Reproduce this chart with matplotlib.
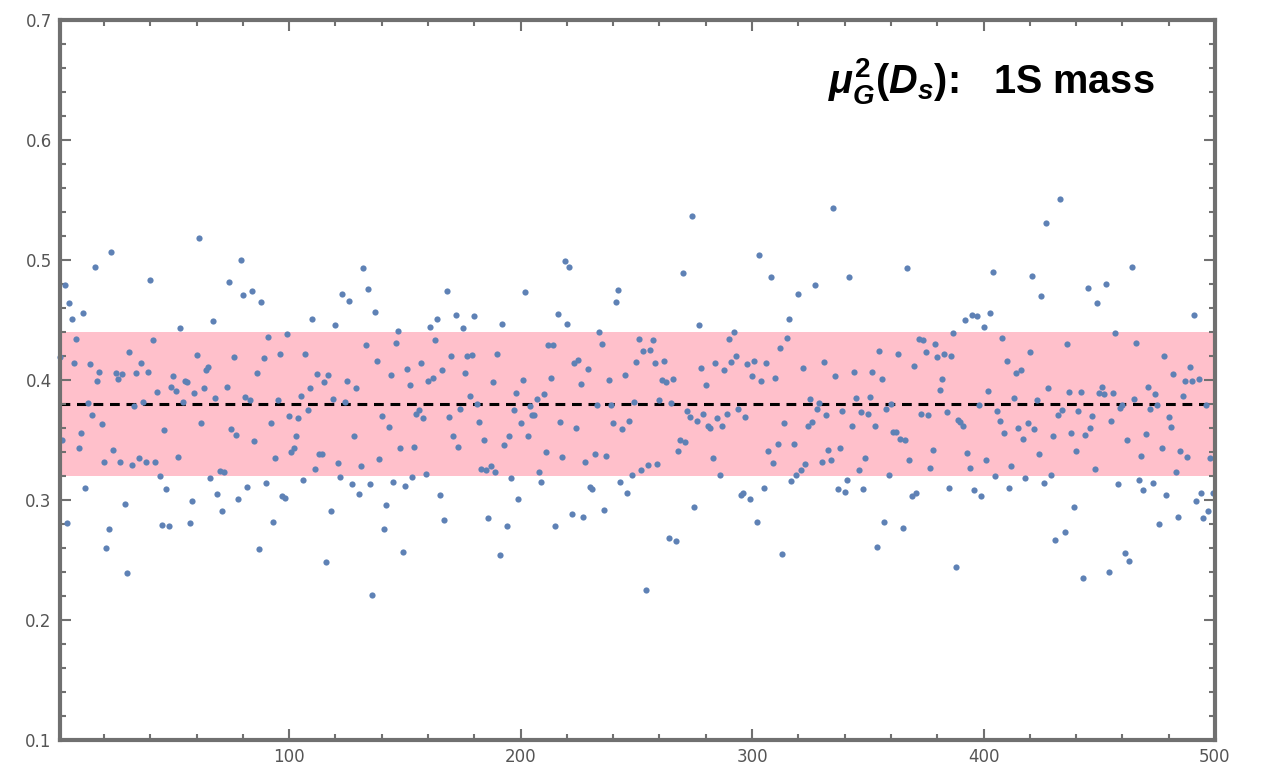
import numpy as np
import matplotlib
matplotlib.use("Agg")
import matplotlib.pyplot as plt
from matplotlib.ticker import MultipleLocator, FormatStrFormatter

# mu_G^2(D_s) values, one per sample (in order)
mu2 = [
    .419, .350, .479, .281, .464, .451, .414, .434, .343, .356, .456, .310, .381, .413, .371, .494,
    .399, .407, .363, .332, .260, .276, .507, .342, .406, .401, .332, .405, .297, .239, .423, .329,
    .378, .406, .335, .414, .382, .332, .407, .483, .433, .332, .390,
    .320, .279, .358, .309, .278, .394, .403, .391, .336, .443, .382, .399, .398, .281, .299, .389,
    .421, .518, .364, .393, .408, .411, .318, .449, .385, .305, .324, .291, .323, .394, .482, .359,
    .419, .354, .301, .500, .471, .386, .311, .383, .474,
    .349, .406, .259, .465, .418, .314, .436, .364, .282, .335, .383, .422, .303, .302, .438, .370,
    .340, .343, .353, .368, .387, .317, .422, .375, .393, .451, .326, .405, .338, .338, .398, .248,
    .404, .291, .384, .446, .331, .319, .472, .382, .399,
    .466, .313, .353, .393, .305, .328, .493, .429, .476, .313, .221, .457, .416, .334, .370, .276,
    .296, .361, .404, .315, .431, .441, .343, .257, .312, .409, .396, .319, .344, .372, .375, .414,
    .368, .322, .399, .444, .402, .433, .451, .304, .408, .283,
    .474, .369, .420, .353, .454, .344, .376, .443, .406, .420, .387, .421, .453, .380, .365, .326,
    .350, .325, .285, .328, .398, .323, .422, .254, .447, .346, .278, .353, .318, .375, .389, .301,
    .364, .400, .473, .353, .378, .371, .371, .384, .323,
    .315, .388, .340, .429, .402, .429, .278, .455, .365, .336, .499, .447, .494, .288, .414, .360,
    .417, .397, .286, .332, .409, .311, .309, .338, .379, .440, .430, .292, .337, .400, .379, .364,
    .465, .475, .315, .359, .404, .306, .366, .321, .382, .415,
    .434, .325, .424, .225, .329, .425, .433, .414, .330, .383, .400, .416, .398, .268, .381, .401,
    .266, .341, .350, .489, .348, .374, .369, .537, .294, .366, .446, .410, .372, .396, .362, .360,
    .335, .414, .368, .321, .362, .408, .372, .434,
    .415, .440, .420, .376, .304, .306, .369, .413, .301, .403, .416, .282, .504, .399, .310, .414,
    .341, .486, .331, .402, .347, .427, .255, .364, .435, .451, .316, .347, .321, .472, .325, .410,
    .330, .362, .384, .365, .479, .376, .381, .332, .415,
    .371, .342, .333, .543, .403, .309, .343, .374, .307, .317, .486, .362, .407, .385, .325, .373,
    .309, .335, .372, .386, .407, .362, .261, .424, .401, .282, .376, .321, .380, .357, .357, .422,
    .351, .277, .350, .493, .333, .303, .412, .306, .434, .372,
    .433, .423, .371, .327, .342, .430, .419, .392, .401, .422, .373, .310, .420, .439, .244, .367,
    .365, .362, .450, .339, .327, .454, .308, .453, .379, .303, .444, .333, .391, .456, .490, .320,
    .374, .366, .435, .356, .416, .310, .328, .385, .406,
    .360, .408, .351, .318, .364, .423, .487, .359, .383, .338, .470, .314, .531, .393, .321, .353,
    .267, .371, .551, .375, .273, .430, .390, .356, .294, .341, .374, .390, .235, .354, .477, .360,
    .370, .326, .464, .389, .394, .388, .480, .240, .366,
    .389, .439, .313, .377, .379, .256, .350, .249, .494, .384, .431, .317, .337, .308, .355, .394,
    .376, .314, .388, .379, .280, .343, .420, .304, .369, .361, .405, .323, .286, .341, .387, .399,
    .336, .411, .399, .454, .299, .401, .306, .285, .379, .291, .335, .306,
]
center = 0.38
band = (0.32, 0.44)

runs = np.arange(1, len(mu2) + 1)

plt.rcParams['mathtext.fontset'] = 'custom'
plt.rcParams['mathtext.it'] = 'Liberation Sans:italic:bold'
plt.rcParams['mathtext.rm'] = 'Liberation Sans:bold'
plt.rcParams['mathtext.bf'] = 'Liberation Sans:bold'

fig = plt.figure(figsize=(12.76, 7.75), dpi=100)
ax = fig.add_axes([60 / 1276, 35 / 775, 1155 / 1276, 720 / 775])

ax.axhspan(band[0], band[1], color='#ffc0cb', lw=0, zorder=0)
ax.axhline(center, color='black', lw=2.2, ls=(0, (3.2, 2.2)), zorder=1)
ax.scatter(runs, mu2, s=20, color='#5e81b5', lw=0, zorder=2, clip_on=False)

ax.set_xlim(1, 500)
ax.set_ylim(0.1, 0.7)
ax.xaxis.set_major_locator(MultipleLocator(100))
ax.xaxis.set_minor_locator(MultipleLocator(20))
ax.yaxis.set_major_locator(MultipleLocator(0.1))
ax.yaxis.set_minor_locator(MultipleLocator(0.02))
ax.yaxis.set_major_formatter(FormatStrFormatter('%.1f'))

frame_color = '#707070'
for sp in ax.spines.values():
    sp.set_color(frame_color)
    sp.set_linewidth(3)
    sp.set_zorder(3)
ax.tick_params(which='both', direction='in', top=True, right=True,
               color=frame_color, width=1.5, labelcolor='#555555', labelsize=12)
ax.tick_params(which='major', length=8, pad=6)
ax.tick_params(which='minor', length=4.5)

ax.text(0.948, 0.898, r'$\mu_G^{2}(D_s)$:   1S mass', transform=ax.transAxes,
        ha='right', va='baseline', fontsize=28.5, fontweight='bold',
        family='Liberation Sans', color='black')

fig.savefig('out.png', dpi=100)
